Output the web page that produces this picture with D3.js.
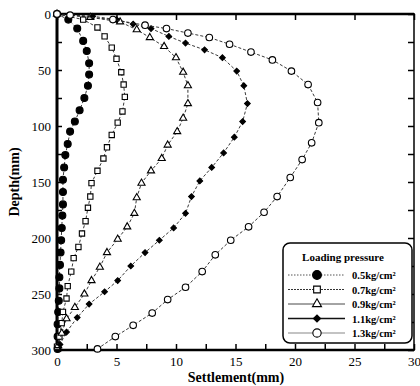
<!DOCTYPE html>
<html>
<head>
<meta charset="utf-8">
<title>Settlement vs depth</title>
<script src="https://cdnjs.cloudflare.com/ajax/libs/d3/7.8.5/d3.min.js"></script>
<style>
	body {margin: 0; background: #fff;}
	text {font-family: "Liberation Serif", "DejaVu Serif", serif;}
</style>
</head>
<body>
<script>
// values (depth in mm, settlement in mm)
var pressures = ["0.5", "0.7", "0.9", "1.1", "1.3"];

var depth05 = [0,5,13,24,33,44,54,64,75,86,96,105,116,126,137,148,159,170,180,191,202,213,224,235,245,256,266,277,288,299];
var settle05 = [0,0.95,1.7,2.2,2.5,2.7,2.7,2.6,2.3,1.9,1.5,1.1,0.9,0.7,0.6,0.5,0.5,0.5,0.45,0.4,0.35,0.3,0.25,0.2,0.2,0.15,0.1,0.05,0.05,0.05];

var depth07 = [0,5,12,20,30,40,52,63,74,87,97,108,119,129,140,151,163,173,185,196,208,218,230,243,254,266,276,288,297];
var settle07 = [0,2.2,3.4,4.0,4.6,5.0,5.4,5.6,5.7,5.5,5.1,4.6,4.2,3.9,3.4,2.9,2.8,2.6,2.4,2.1,1.8,1.4,1.2,0.9,0.8,0.5,0.4,0.2,0];

var depth09 = [0,3,7,14,21,29,39,52,64,80,93,105,117,129,140,151,164,178,190,201,213,226,238,250,262,272,285,296];
var settle09 = [0,2.8,5.3,6.7,7.8,9.0,10.0,10.6,11.0,11.0,10.6,10.1,9.3,8.8,7.9,7.1,6.7,6.5,5.9,5.1,4.2,3.6,2.9,2.3,1.5,0.8,0.4,0.1];

var depth11 = [0,2,5,9,13,20,26,32,39,51,64,80,96,110,124,137,149,163,178,191,202,213,225,238,248,259,271,284,295];
var settle11 = [0,3.0,5.0,6.4,7.9,9.4,10.8,12.4,13.9,15.1,15.7,16.0,15.6,14.9,14.0,13.0,12.0,11.3,10.8,9.8,8.6,7.4,6.2,5.1,4.0,2.7,1.7,0.8,0.25];

var depth13 = [0,1,5,10,13,17,21,27,34,41,51,63,79,97,115,130,146,163,177,190,202,215,230,244,255,267,278,288,299];
var settle13 = [0,1.1,4.7,7.4,9.2,11.0,12.8,14.5,16.3,18.1,19.7,21.1,21.9,22.0,21.4,20.6,19.6,18.5,17.4,16.1,14.6,13.3,12.2,10.8,9.3,8.0,6.4,4.9,3.4];

var xTicks = d3.range(0, 30.01, 2.5);
var yTicks = d3.range(0, 300.01, 25);

var depths = [depth05, depth07, depth09, depth11, depth13];
var settles = [settle05, settle07, settle09, settle11, settle13];

// marker look for each pressure (diamond = square turned 45deg)
var symbols = [d3.symbolCircle, d3.symbolSquare, d3.symbolTriangle, d3.symbolSquare, d3.symbolCircle];
var symSize = [38, 28, 22, 16, 34];
var symRot = [0, 0, 0, 45, 0];
var symFill = ["#000", "#fff", "#fff", "#000", "#fff"];

var svg = d3.select("body").append("svg")
	.attr("width", 420)
	.attr("height", 386);

var x = d3.scaleLinear().domain([0, 30]).range([57, 414]);
var y = d3.scaleLinear().domain([0, 300]).range([14, 350]);

// axes, ticks pointing inward
svg.append("g")
	.attr("transform", "translate(0,350)")
	.call(d3.axisBottom(x).tickValues(xTicks).tickSize(-6).tickPadding(7)
		.tickFormat(function(d){ return d % 5 === 0 ? d : ""; }));
svg.append("g")
	.attr("transform", "translate(57,0)")
	.call(d3.axisLeft(y).tickValues(yTicks).tickSize(-5).tickPadding(6)
		.tickFormat(function(d){ return d % 50 === 0 ? d : ""; }));
svg.append("g")
	.attr("transform", "translate(0,14)")
	.call(d3.axisTop(x).tickValues([0,5,10,15,20,25,30]).tickSize(-6).tickFormat(""));
svg.append("g")
	.attr("transform", "translate(414,0)")
	.call(d3.axisRight(y).tickValues(yTicks).tickSize(-6).tickFormat(""));

svg.selectAll(".domain").remove();
svg.selectAll(".tick line").attr("stroke", "#000").attr("stroke-width", 1.5);
svg.selectAll(".tick text")
	.attr("font-family", "Liberation Serif")
	.attr("font-size", "13px")
	.attr("fill", "#000");

// frame
svg.append("line").attr("x1", 57).attr("x2", 414).attr("y1", 14).attr("y2", 14)
	.attr("stroke", "#000").attr("stroke-width", 2.5);
svg.append("line").attr("x1", 57).attr("x2", 414).attr("y1", 350).attr("y2", 350)
	.attr("stroke", "#000").attr("stroke-width", 2.5);
svg.append("line").attr("x1", 57).attr("x2", 57).attr("y1", 13).attr("y2", 351)
	.attr("stroke", "#000").attr("stroke-width", 3);
svg.append("line").attr("x1", 414).attr("x2", 414).attr("y1", 13).attr("y2", 351)
	.attr("stroke", "#000").attr("stroke-width", 1.5);

// curves
var line = d3.line()
	.x(function(d){ return x(d[0]); })
	.y(function(d){ return y(d[1]); });

pressures.forEach(function(p, i){
	var pts = settles[i].map(function(s, j){ return [s, depths[i][j]]; });
	svg.append("path")
		.datum(pts)
		.attr("d", line)
		.attr("fill", "none")
		.attr("stroke", "#222")
		.attr("stroke-width", 0.9)
		.attr("stroke-dasharray", "3,2");
	svg.selectAll(".m" + i)
		.data(pts)
		.enter()
		.append("path")
		.attr("class", "m" + i)
		.attr("transform", function(d){ return "translate(" + x(d[0]) + "," + y(d[1]) + ") rotate(" + symRot[i] + ")"; })
		.attr("d", d3.symbol().type(symbols[i]).size(symSize[i]))
		.attr("fill", symFill[i])
		.attr("stroke", "#000")
		.attr("stroke-width", 1.1);
});

// axis titles
svg.append("text")
	.attr("x", 236)
	.attr("y", 382)
	.attr("text-anchor", "middle")
	.attr("font-size", "14px")
	.attr("font-weight", "bold")
	.text("Settlement(mm)");
svg.append("text")
	.attr("transform", "translate(19,182) rotate(-90)")
	.attr("text-anchor", "middle")
	.attr("font-size", "14px")
	.attr("font-weight", "bold")
	.text("Depth(mm)");

// legend
var legend = svg.append("g");
legend.append("rect")
	.attr("x", 283).attr("y", 243)
	.attr("width", 129).attr("height", 100)
	.attr("rx", 7)
	.attr("fill", "#fff")
	.attr("stroke", "#000")
	.attr("stroke-width", 1.5);
legend.append("text")
	.attr("x", 343).attr("y", 261)
	.attr("text-anchor", "middle")
	.attr("font-size", "11px")
	.attr("font-weight", "bold")
	.text("Loading pressure");

var legStroke = ["#555", "#333", "#333", "#111", "#888"];
var legWidth = [1, 1, 0.9, 1.6, 1.2];
var legDash = ["1.5,1.5", "2,1", null, null, null];

pressures.forEach(function(p, i){
	var ly = 275 + i * 14.5;
	legend.append("line")
		.attr("x1", 288).attr("x2", 345)
		.attr("y1", ly).attr("y2", ly)
		.attr("stroke", legStroke[i])
		.attr("stroke-width", legWidth[i])
		.attr("stroke-dasharray", legDash[i]);
	legend.append("path")
		.attr("transform", "translate(317," + ly + ") rotate(" + symRot[i] + ")")
		.attr("d", d3.symbol().type(symbols[i]).size(symSize[i] * 1.6))
		.attr("fill", symFill[i])
		.attr("stroke", "#000")
		.attr("stroke-width", 1.1);
	legend.append("text")
		.attr("x", 352).attr("y", ly + 4)
		.attr("font-size", "10.5px")
		.attr("font-weight", "bold")
		.text(p + "kg/cm\u00b2");
});
</script>
</body>
</html>
